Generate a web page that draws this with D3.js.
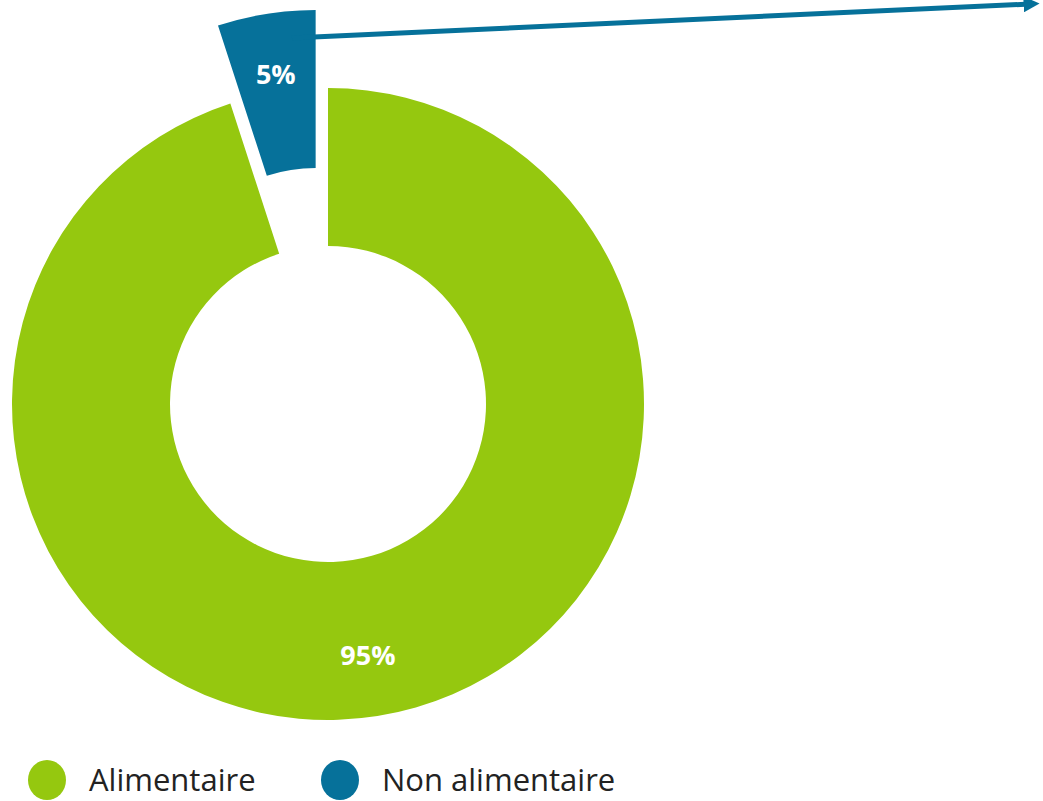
<!DOCTYPE html>
<html>
  <head>
    <meta charset="utf-8">
    <script src="https://cdn.jsdelivr.net/npm/d3@7"></script>
    <style>
      body { margin: 0; background: #fff; }
      text { font-family: "Open Sans", "Noto Sans", sans-serif; }
    </style>
  </head>
  <body>
    <svg id="chart"></svg>
    <script>
    var width = 1043
    var height = 801

    // data
    var categories = ["Non alimentaire", "Alimentaire"]
    var values = [5, 95]
    var labels = ["5%", "95%"]
    var colors = ["#06719a", "#95c80f"]
    var legendOrder = ["Alimentaire", "Non alimentaire"]

    var cx = 328, cy = 404
    var outerR = 316, innerR = 158
    var explode = 79   // how far the small slice is pulled out

    var svg = d3.select("#chart")
      .attr("width", width)
      .attr("height", height)

    var color = d3.scaleOrdinal().domain(categories).range(colors)

    var total = d3.sum(values)
    var start = -2 * Math.PI * values[0] / total

    var pie = d3.pie()
      .sort(null)
      .value(function(d) { return d.value })
      .startAngle(start)
      .endAngle(start + 2 * Math.PI)

    var arc = d3.arc().innerRadius(innerR).outerRadius(outerR)
    var labelArc = d3.arc().innerRadius(255).outerRadius(255)

    var rows = categories.map(function(c, i) {
      return { name: c, value: values[i], label: labels[i] }
    })

    var g = svg.append("g").attr("transform", "translate(" + cx + "," + cy + ")")

    function shift(d) {
      if (d.data.name !== "Non alimentaire") return [0, 0]
      var mid = (d.startAngle + d.endAngle) / 2
      return [Math.sin(mid) * explode, -Math.cos(mid) * explode]
    }

    var slices = g.selectAll("g.slice")
      .data(pie(rows))
      .enter().append("g")
      .attr("class", "slice")
      .attr("transform", function(d) { var s = shift(d); return "translate(" + s[0] + "," + s[1] + ")" })

    slices.append("path")
      .attr("d", arc)
      .attr("fill", function(d) { return color(d.data.name) })

    // arrow from the small slice to the right edge
    svg.append("defs").append("marker")
      .attr("id", "head")
      .attr("viewBox", "0 0 10 10")
      .attr("refX", 4).attr("refY", 5)
      .attr("markerWidth", 3.2).attr("markerHeight", 3.2)
      .attr("orient", "auto")
      .append("path")
      .attr("d", "M0,0 L10,5 L0,10 z")
      .attr("fill", colors[0])

    svg.append("line")
      .attr("x1", 292).attr("y1", 38)
      .attr("x2", 1030).attr("y2", 4)
      .attr("stroke", colors[0])
      .attr("stroke-width", 5)
      .attr("marker-end", "url(#head)")

    slices.append("text")
      .attr("transform", function(d) { return "translate(" + labelArc.centroid(d) + ")" })
      .attr("text-anchor", "middle")
      .attr("dy", "0.35em")
      .attr("fill", "#fff")
      .attr("font-weight", "bold")
      .attr("font-size", 27)
      .text(function(d) { return d.data.label })

    // legend
    var legendX = [47, 340]
    var legend = svg.append("g").selectAll("g")
      .data(legendOrder)
      .enter().append("g")
      .attr("transform", function(d, i) { return "translate(" + legendX[i] + ",780)" })

    legend.append("ellipse")
      .attr("rx", 19).attr("ry", 20)
      .attr("fill", function(d) { return color(d) })

    legend.append("text")
      .attr("x", 42)
      .attr("y", 11)
      .attr("font-size", 31)
      .attr("fill", "#222")
      .text(function(d) { return d })
    </script>
  </body>
</html>
